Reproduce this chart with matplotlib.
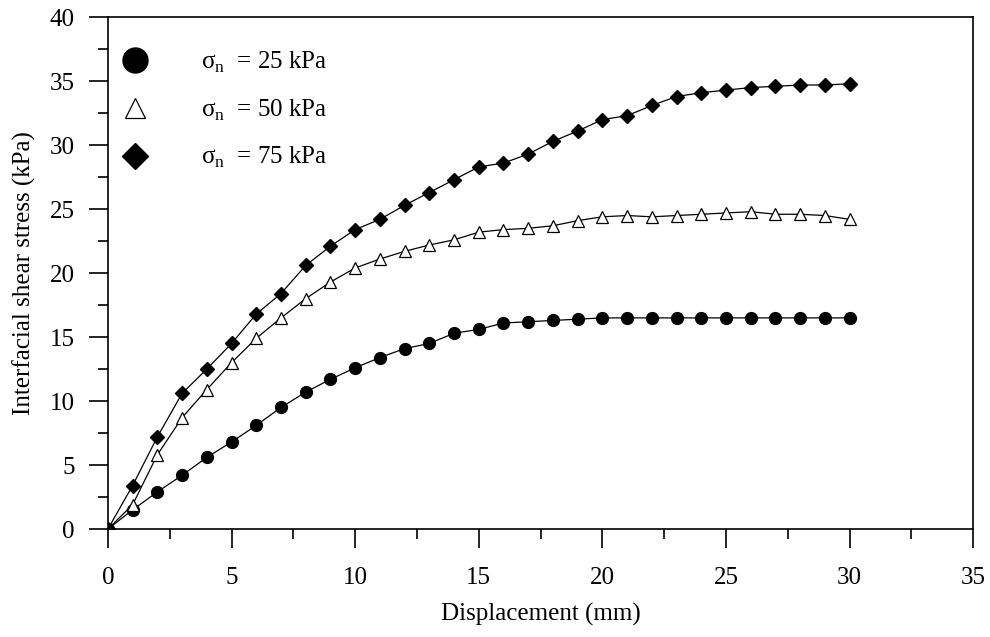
import numpy as np
import matplotlib.pyplot as plt
from matplotlib.lines import Line2D

plt.rcParams['font.family'] = ['Liberation Serif', 'DejaVu Serif']
plt.rcParams['mathtext.fontset'] = 'custom'
plt.rcParams['mathtext.rm'] = 'Liberation Serif'

# Displacement (mm)
disp = np.arange(0, 31)

# Interfacial shear stress (kPa) for each normal stress
tau_25 = [0, 1.5, 2.9, 4.2, 5.6, 6.8, 8.1, 9.5, 10.7, 11.7, 12.6,
          13.4, 14.1, 14.5, 15.3, 15.6, 16.1, 16.2, 16.3, 16.4, 16.5,
          16.5, 16.5, 16.5, 16.5, 16.5, 16.5, 16.5, 16.5, 16.5, 16.5]
tau_50 = [0, 1.9, 5.8, 8.7, 10.9, 13.0, 14.9, 16.5, 18.0, 19.3, 20.4,
          21.1, 21.7, 22.2, 22.6, 23.2, 23.4, 23.5, 23.7, 24.1, 24.4,
          24.5, 24.4, 24.5, 24.6, 24.7, 24.8, 24.6, 24.6, 24.5, 24.2]
tau_75 = [0, 3.4, 7.2, 10.6, 12.5, 14.5, 16.8, 18.4, 20.6, 22.1, 23.4,
          24.2, 25.3, 26.3, 27.3, 28.3, 28.6, 29.3, 30.3, 31.1, 32.0,
          32.3, 33.1, 33.8, 34.1, 34.3, 34.5, 34.6, 34.7, 34.7, 34.8]

labels = ['σ$_\\mathrm{n}$  = 25 kPa', 'σ$_\\mathrm{n}$  = 50 kPa', 'σ$_\\mathrm{n}$  = 75 kPa']

fig = plt.figure(figsize=(9.9, 6.37), dpi=100)
ax = fig.add_axes([0.109, 0.1695, 0.874, 0.8035])

ax.plot(disp, tau_25, color='black', lw=0.9, marker='o', ms=8.5,
        mfc='black', mec='black')
ax.plot(disp, tau_50, color='black', lw=0.9, marker='^', ms=8,
        mfc='white', mec='black', mew=0.9)
ax.plot(disp, tau_75, color='black', lw=0.9, marker='D', ms=7,
        mfc='black', mec='black')

ax.set_xlim(0, 35)
ax.set_ylim(0, 40)
ax.set_xticks(np.arange(0, 36, 5))
ax.set_yticks(np.arange(0, 41, 5))
ax.set_xticks(np.arange(2.5, 35, 5), minor=True)
ax.set_yticks(np.arange(2.5, 40, 5), minor=True)
ax.tick_params(which='major', direction='out', length=14, width=1.2,
               labelsize=18)
ax.tick_params(axis='x', which='major', pad=13)
ax.tick_params(axis='y', which='major', pad=10)
ax.tick_params(which='minor', direction='out', length=7, width=1.2)
for s in ax.spines.values():
    s.set_linewidth(1.2)

ax.set_xlabel('Displacement (mm)', fontsize=18, labelpad=10)
ax.set_ylabel('Interfacial shear stress (kPa)', fontsize=18, labelpad=10)

handles = [
    Line2D([], [], ls='none', marker='o', ms=18, mfc='black', mec='black'),
    Line2D([], [], ls='none', marker='^', ms=15, mfc='white', mec='black', mew=0.9),
    Line2D([], [], ls='none', marker='D', ms=13, mfc='black', mec='black'),
]
ax.legend(handles, labels, loc='upper left', bbox_to_anchor=(-0.019, 0.985),
          frameon=False, fontsize=18, handletextpad=1.9, labelspacing=0.9,
          borderaxespad=0.6, handlelength=1.5)

fig.savefig('out.png', dpi=100)
